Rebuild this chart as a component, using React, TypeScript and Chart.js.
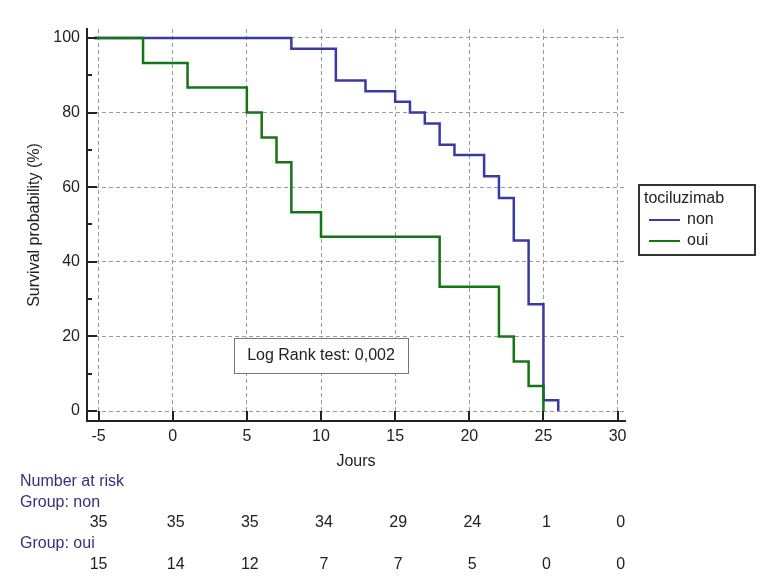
import React, { useEffect, useRef } from 'react';
import { Chart, registerables } from 'chart.js';

Chart.register(...registerables);

// ---- Data ----
const xTicks = [-5, 0, 5, 10, 15, 20, 25, 30];
const yTicks = [0, 20, 40, 60, 80, 100];
const yMinorTicks = [10, 30, 50, 70, 90];

const nonTimes = [-5.3, 8, 11, 13, 15, 16, 17, 18, 19, 21, 22, 23, 24, 25, 26];
const nonSurvival = [100, 97.1, 88.6, 85.7, 82.9, 80, 77.1, 71.4, 68.6, 62.9, 57.1, 45.7, 28.6, 2.9, 0];

const ouiTimes = [-5.3, -2, 1, 5, 6, 7, 8, 10, 18, 22, 23, 24, 25];
const ouiSurvival = [100, 93.3, 86.7, 80, 73.3, 66.7, 53.3, 46.7, 33.3, 20, 13.3, 6.7, 0];

const riskTimes = [-5, 0, 5, 10, 15, 20, 25, 30];
const riskNon = [35, 35, 35, 34, 29, 24, 1, 0];
const riskOui = [15, 14, 12, 7, 7, 5, 0, 0];

const groupNames = ['non', 'oui'];
const legendTitle = 'tociluzimab';
const logRankText = 'Log Rank test: 0,002';
const xTitle = 'Jours';
const yTitle = 'Survival probability (%)';

const BLUE = '#3a3aa6';
const GREEN = '#147514';
const FONT = '"Liberation Sans", Arial, sans-serif';

const overlayPlugin = {
  id: 'kmOverlay',
  afterDraw(chart: any) {
    const ctx = chart.ctx as CanvasRenderingContext2D;
    const xs = chart.scales.x;
    const ys = chart.scales.y;
    const area = chart.chartArea;
    ctx.save();

    // inside ticks
    ctx.strokeStyle = '#222';
    ctx.lineWidth = 2;
    xTicks.forEach((v) => {
      const px = Math.round(xs.getPixelForValue(v));
      ctx.beginPath();
      ctx.moveTo(px, area.bottom);
      ctx.lineTo(px, area.bottom - 10);
      ctx.stroke();
    });
    yTicks.forEach((v) => {
      const py = Math.round(ys.getPixelForValue(v));
      ctx.beginPath();
      ctx.moveTo(area.left, py);
      ctx.lineTo(area.left + 10, py);
      ctx.stroke();
    });
    yMinorTicks.forEach((v) => {
      const py = Math.round(ys.getPixelForValue(v));
      ctx.beginPath();
      ctx.moveTo(area.left, py);
      ctx.lineTo(area.left + 5, py);
      ctx.stroke();
    });

    // axis titles
    ctx.fillStyle = '#222';
    ctx.font = `16px ${FONT}`;
    ctx.textAlign = 'center';
    ctx.textBaseline = 'middle';
    ctx.fillText(xTitle, (area.left + area.right) / 2, 462);
    ctx.save();
    ctx.translate(35, (area.top + area.bottom) / 2);
    ctx.rotate(-Math.PI / 2);
    ctx.fillText(yTitle, 0, 0);
    ctx.restore();

    // Log rank box
    ctx.fillStyle = '#fff';
    ctx.fillRect(234, 338, 174, 35);
    ctx.strokeStyle = '#777';
    ctx.lineWidth = 1;
    ctx.strokeRect(234.5, 338.5, 174, 35);
    ctx.fillStyle = '#222';
    ctx.font = `16px ${FONT}`;
    ctx.textAlign = 'center';
    ctx.fillText(logRankText, 321, 356);

    // Legend
    ctx.fillStyle = '#fff';
    ctx.fillRect(638, 184, 117, 71);
    ctx.strokeStyle = '#333';
    ctx.lineWidth = 2;
    ctx.strokeRect(639, 185, 116, 70);
    ctx.fillStyle = '#222';
    ctx.textAlign = 'left';
    ctx.font = `16px ${FONT}`;
    ctx.fillText(legendTitle, 644, 199);
    const cols = [BLUE, GREEN];
    groupNames.forEach((g, i) => {
      const y = 220 + i * 21;
      ctx.strokeStyle = cols[i];
      ctx.lineWidth = 2;
      ctx.beginPath();
      ctx.moveTo(649, y);
      ctx.lineTo(680, y);
      ctx.stroke();
      ctx.fillStyle = '#222';
      ctx.fillText(g, 687, y);
    });

    // Number at risk table
    const labelColor = '#33307f';
    ctx.font = `16px ${FONT}`;
    ctx.textAlign = 'left';
    ctx.fillStyle = labelColor;
    ctx.fillText('Number at risk', 20, 482);
    ctx.fillText('Group: ' + groupNames[0], 20, 503);
    ctx.fillText('Group: ' + groupNames[1], 20, 544);
    ctx.fillStyle = '#222';
    ctx.textAlign = 'center';
    riskTimes.forEach((t, i) => {
      const px = xs.getPixelForValue(t) + (i === 0 ? 0 : 3);
      ctx.fillText(String(riskNon[i]), px, 523);
      ctx.fillText(String(riskOui[i]), px, 565);
    });

    ctx.restore();
  },
};

export default function App() {
  const canvasRef = useRef<HTMLCanvasElement | null>(null);

  useEffect(() => {
    const canvas = canvasRef.current;
    if (!canvas) return;
    const chart = new Chart(canvas, {
      type: 'line',
      data: {
        datasets: [
          {
            label: groupNames[1],
            data: ouiTimes.map((t, i) => ({ x: t, y: ouiSurvival[i] })),
            borderColor: GREEN,
            borderWidth: 2.5,
            stepped: 'before',
            pointRadius: 0,
            fill: false,
          },
          {
            label: groupNames[0],
            data: nonTimes.map((t, i) => ({ x: t, y: nonSurvival[i] })),
            borderColor: BLUE,
            borderWidth: 2.5,
            stepped: 'before',
            pointRadius: 0,
            fill: false,
          },
        ],
      },
      options: {
        responsive: false,
        maintainAspectRatio: false,
        animation: false,
        devicePixelRatio: 1,
        layout: { padding: { left: 0, right: 154, top: 29, bottom: 121 } },
        plugins: {
          legend: { display: false },
          tooltip: { enabled: false },
          title: { display: false },
        },
        scales: {
          x: {
            type: 'linear',
            min: -5.78,
            max: 30.5,
            afterBuildTicks: (scale: any) => {
              scale.ticks = xTicks.map((v) => ({ value: v }));
            },
            afterFit: (scale: any) => {
              scale.height = 40;
            },
            grid: { color: '#9a9a9a', lineWidth: 1, drawTicks: false },
            border: { display: true, color: '#222', width: 2, dash: [4, 3] },
            ticks: {
              font: { family: FONT, size: 16 },
              color: '#222',
              padding: 6,
              maxRotation: 0,
              autoSkip: false,
            },
          },
          y: {
            type: 'linear',
            min: -2.68,
            max: 102.4,
            afterBuildTicks: (scale: any) => {
              scale.ticks = yTicks.map((v) => ({ value: v }));
            },
            afterFit: (scale: any) => {
              scale.width = 87;
            },
            grid: { color: '#9a9a9a', lineWidth: 1, drawTicks: false },
            border: { display: true, color: '#222', width: 2, dash: [4, 3] },
            ticks: {
              font: { family: FONT, size: 16 },
              color: '#222',
              padding: 7,
              autoSkip: false,
            },
          },
        },
      },
      plugins: [overlayPlugin],
    });
    return () => chart.destroy();
  }, []);

  return (
    <div style={{ position: 'absolute', left: 0, top: 0, width: 779, height: 582, background: '#fff' }}>
      <canvas ref={canvasRef} width={779} height={582} style={{ display: 'block' }} />
    </div>
  );
}
